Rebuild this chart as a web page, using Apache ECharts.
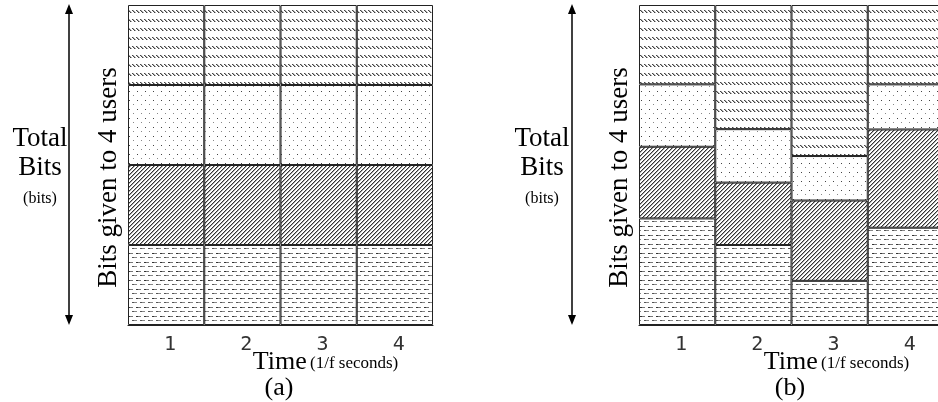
<!DOCTYPE html>
<html><head><meta charset="utf-8">
<script src="https://cdn.jsdelivr.net/npm/echarts@6/dist/echarts.min.js"></script>
<style>html,body{margin:0;padding:0;background:#fff;overflow:hidden}#c{width:950px;height:402px}</style>
</head><body><div id="c"></div>
<script>
// ---- data ----
const categories = ['1', '2', '3', '4'];
// panel (a): equal split among 4 users (percent of total bits)
const user1A = [25, 25, 25, 25];
const user2A = [25, 25, 25, 25];
const user3A = [25, 25, 25, 25];
const user4A = [25, 25, 25, 25];
// panel (b): variable split
const user1B = [33.3, 25.0, 13.8, 30.4];
const user2B = [22.4, 19.5, 25.1, 30.7];
const user3B = [19.5, 16.7, 13.9, 14.1];
const user4B = [24.8, 38.8, 47.2, 24.8];
const seriesNames = ['User 1', 'User 2', 'User 3', 'User 4'];

// ---- patterns ----
function tile(w, h, draw) {
  const c = document.createElement('canvas');
  c.width = w; c.height = h;
  const ctx = c.getContext('2d');
  ctx.fillStyle = '#fff'; ctx.fillRect(0, 0, w, h);
  draw(ctx);
  return { image: c, repeat: 'repeat' };
}
function px(ctx, x, y, col) { ctx.fillStyle = col; ctx.fillRect(x, y, 1, 1); }
// dashed rows (user 1)
const patDash = tile(8, 9, ctx => {
  for (let x = 0; x < 5; x++) px(ctx, x, 1, x < 2 ? '#333' : '#777');
  for (let x = 4; x < 9; x++) px(ctx, x % 8, 5, x < 6 ? '#555' : '#888');
});
// dense "/" hatching (user 2)
const patHatch = tile(4, 4, ctx => {
  for (let x = 0; x < 4; x++) for (let y = 0; y < 4; y++) {
    const m = (x + y) % 4;
    if (m === 3) px(ctx, x, y, '#333');
    else if (m === 0) px(ctx, x, y, '#aaa');
  }
});
// sparse dots (user 3)
const patDots = tile(8, 9, ctx => {
  px(ctx, 1, 1, '#444');
  px(ctx, 5, 5, '#888');
});
// rows of "\\\\" strokes (user 4)
const patRows = tile(4, 9, ctx => {
  for (let i = 0; i < 3; i++) { px(ctx, i, i + 1, '#444'); px(ctx, i + 1, i + 1, '#aaa'); }
});
const patterns = [patDash, patHatch, patDots, patRows];

const serif = 'Liberation Serif';
const border = { borderColor: '#222', borderWidth: 1 };

function mkSeries(gi, arrays) {
  return arrays.map((arr, k) => ({
    name: seriesNames[k], type: 'bar', stack: 'p' + gi,
    xAxisIndex: gi, yAxisIndex: gi, data: arr,
    barWidth: '100%', barCategoryGap: 0,
    itemStyle: Object.assign({ color: patterns[k] }, border),
    emphasis: { disabled: true }, animation: false
  }));
}

function xAx(gi) {
  return {
    gridIndex: gi, type: 'category', data: categories,
    axisLine: { show: true, lineStyle: { color: '#222', width: 1.2 } },
    axisTick: { show: false },
    axisLabel: { fontFamily: 'DejaVu Sans Mono', fontSize: 20, color: '#333', margin: 10, padding: [0, 0, 0, 8] },
    name: '{big|Time} {small|(1/f seconds)}',
    nameLocation: 'middle', nameGap: 24, nameMoveOverlap: false,
    nameTextStyle: {
      padding: [0, 0, 0, 90],
      rich: {
        big: { fontFamily: serif, fontSize: 26, color: '#000' },
        small: { fontFamily: serif, fontSize: 17, color: '#000', padding: [4, 0, 0, 0] }
      }
    }
  };
}
function yAx(gi) {
  return {
    gridIndex: gi, type: 'value', min: 0, max: 100,
    axisLine: { show: false }, axisTick: { show: false },
    axisLabel: { show: false }, splitLine: { show: false },
    name: 'Bits given to 4 users', nameLocation: 'middle', nameRotate: 90, nameGap: 6,
    nameTextStyle: { fontFamily: serif, fontSize: 27, color: '#000', padding: [0, 25, 0, 0] }
  };
}

function arrow(x) {
  return [
    { type: 'line', shape: { x1: x, y1: 12, x2: x, y2: 317 }, style: { stroke: '#000', lineWidth: 1.5 } },
    { type: 'polygon', shape: { points: [[x, 4], [x - 4, 14], [x + 4, 14]] }, style: { fill: '#000' } },
    { type: 'polygon', shape: { points: [[x, 325], [x - 4, 315], [x + 4, 315]] }, style: { fill: '#000' } }
  ];
}
function totalLabel(cx) {
  return [
    { type: 'text', x: cx, y: 152, style: { text: 'Total', font: '27px "Liberation Serif"', fill: '#000', textAlign: 'center', textVerticalAlign: 'bottom' } },
    { type: 'text', x: cx, y: 181, style: { text: 'Bits', font: '27px "Liberation Serif"', fill: '#000', textAlign: 'center', textVerticalAlign: 'bottom' } },
    { type: 'text', x: cx, y: 207, style: { text: '(bits)', font: '16px "Liberation Serif"', fill: '#000', textAlign: 'center', textVerticalAlign: 'bottom' } }
  ];
}
function panelLabel(cx, t) {
  return { type: 'text', x: cx, y: 388, style: { text: t, font: '26px "Liberation Serif"', fill: '#000', textAlign: 'center', textVerticalAlign: 'middle' } };
}

const chart = echarts.init(document.getElementById('c'), null, { renderer: 'canvas' });
chart.setOption({
  animation: false,
  grid: [
    { left: 128, top: 5, width: 305, height: 320 },
    { left: 639, top: 5, width: 305, height: 320 }
  ],
  xAxis: [xAx(0), xAx(1)],
  yAxis: [yAx(0), yAx(1)],
  series: mkSeries(0, [user1A, user2A, user3A, user4A]).concat(mkSeries(1, [user1B, user2B, user3B, user4B])),
  graphic: [].concat(arrow(69), arrow(572), totalLabel(40), totalLabel(542),
    [panelLabel(279, '(a)'), panelLabel(790, '(b)')])
});
</script></body></html>
